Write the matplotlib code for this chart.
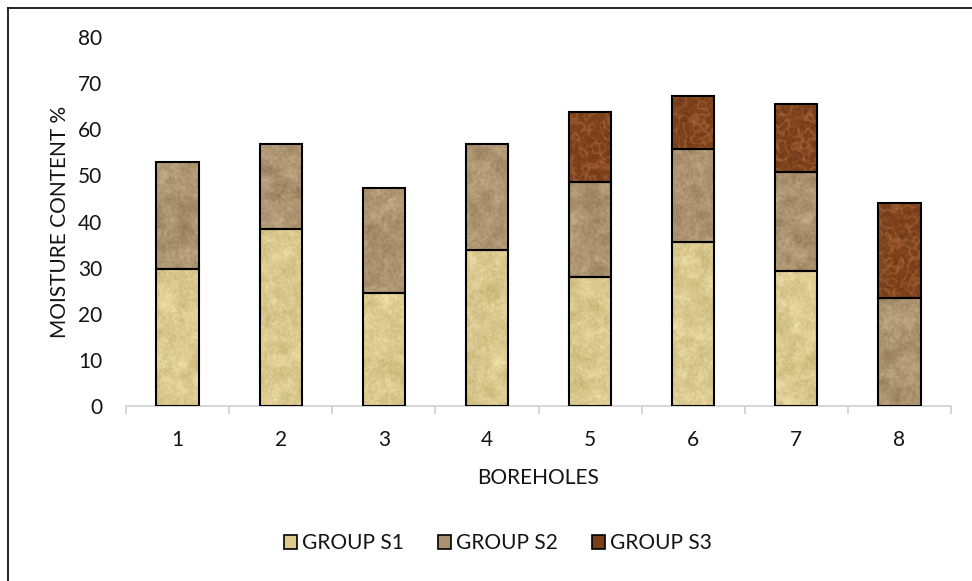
import numpy as np
import matplotlib
matplotlib.use("Agg")
import matplotlib.pyplot as plt
from matplotlib.patches import Rectangle
from matplotlib.lines import Line2D

# Moisture content per borehole, split by soil group
boreholes = ["1", "2", "3", "4", "5", "6", "7", "8"]
group_s1 = [29.7, 38.4, 24.4, 33.8, 28.0, 35.6, 29.3, 0.0]
group_s2 = [23.3, 18.3, 22.8, 23.0, 20.5, 20.2, 21.4, 23.4]
group_s3 = [0.0, 0.0, 0.0, 0.0, 15.2, 11.4, 14.8, 20.6]
series_names = ["GROUP S1", "GROUP S2", "GROUP S3"]
y_ticks = [0, 10, 20, 30, 40, 50, 60, 70, 80]

plt.rcParams["font.family"] = ["Lato", "DejaVu Sans"]
TEXT = "#141414"
FS = 15


def blur(a, sigma):
    """Gaussian blur via FFT (periodic)."""
    h, w = a.shape
    fy = np.fft.fftfreq(h)[:, None]
    fx = np.fft.fftfreq(w)[None, :]
    g = np.exp(-2 * (np.pi ** 2) * (sigma ** 2) * (fx ** 2 + fy ** 2))
    return np.real(np.fft.ifft2(np.fft.fft2(a) * g))


def norm(a):
    a = a - a.mean()
    return a / (a.std() + 1e-9)


rng = np.random.default_rng(11)
H, W = 380, 840


def sand(light, dark, fine_w=0.55, coarse_w=0.6):
    n1 = norm(blur(rng.random((H, W)), 0.8))
    n2 = norm(blur(rng.random((H, W)), 4.0))
    t = 0.55 + 0.17 * (fine_w * n1 + coarse_w * n2)
    t = np.clip(t, 0, 1)[..., None]
    light = np.array(light) / 255.0
    dark = np.array(dark) / 255.0
    return dark + (light - dark) * t


def pebble(light, dark):
    n = norm(blur(rng.random((H, W)), 2.6))
    veins = np.exp(-(n ** 2) / 0.15)
    fine = norm(blur(rng.random((H, W)), 0.8))
    t = np.clip(0.3 + 0.45 * veins + 0.08 * fine, 0, 1)[..., None]
    light = np.array(light) / 255.0
    dark = np.array(dark) / 255.0
    return dark + (light - dark) * t


textures = [
    sand((240, 226, 170), (192, 172, 110)),
    sand((198, 174, 138), (142, 116, 82)),
    pebble((170, 102, 56), (104, 50, 16)),
]
base_colors = ["#dcca8f", "#ab926f", "#7a3f18"]

fig = plt.figure(figsize=(9.72, 5.81), dpi=100)
ax = fig.add_axes([126 / 972, 1 - 406 / 581, (951 - 126) / 972, (406 - 37) / 581])

x = np.arange(len(boreholes))
width = 0.41
bottom = np.zeros(len(boreholes))
for values, tex, col in zip([group_s1, group_s2, group_s3], textures, base_colors):
    vals = np.array(values)
    bars = ax.bar(x, vals, width, bottom=bottom, color=col,
                  edgecolor="black", linewidth=1.3, zorder=3)
    for b, v in zip(bars, vals):
        if v <= 0:
            b.set_visible(False)
            continue
        im = ax.imshow(tex, extent=(-0.5, len(boreholes) - 0.5, 0, 80),
                       aspect="auto", interpolation="bilinear", zorder=3.5)
        im.set_clip_path(b)
        edge = Rectangle(b.get_xy(), b.get_width(), b.get_height(),
                         facecolor="none", edgecolor="black", linewidth=1.5, zorder=4)
        ax.add_patch(edge)
    bottom += vals

ax.set_xlim(-0.5, len(boreholes) - 0.5)
ax.set_ylim(0, 80)
ax.set_xticks(x)
ax.set_xticklabels(boreholes)
ax.set_yticks(y_ticks)
ax.set_yticklabels([str(t) for t in y_ticks])

for side in ["top", "right", "left"]:
    ax.spines[side].set_visible(False)
ax.spines["bottom"].set_color("#d0d0d0")
ax.spines["bottom"].set_linewidth(1.2)
ax.tick_params(axis="y", length=0, pad=17, labelsize=FS, labelcolor=TEXT)
ax.tick_params(axis="x", length=0, pad=17, labelsize=FS, labelcolor=TEXT)
# category separators below the axis line
ax.set_xticks(np.arange(-0.5, len(boreholes)), minor=True)
ax.tick_params(axis="x", which="minor", length=6, width=1.2, color="#d0d0d0",
               direction="out")

ax.set_xlabel("BOREHOLES", fontsize=FS, color=TEXT, labelpad=13)
ax.set_ylabel("MOISTURE CONTENT %", fontsize=FS, color=TEXT, labelpad=6)

# legend swatches
handles = []
for col in base_colors:
    handles.append(Rectangle((0, 0), 1, 1, facecolor=col, edgecolor="black", linewidth=1.2))
fig.legend(handles, series_names, loc="center", bbox_to_anchor=(498 / 972, 1 - 543 / 581),
           ncol=3, frameon=False, fontsize=FS, handlelength=0.65, handleheight=0.65,
           handletextpad=0.25, columnspacing=1.6, labelcolor=TEXT)

# chart frame
fig.add_artist(Line2D([8 / 972, 8 / 972], [1 - 8 / 581, 0], color="black", linewidth=1.2))
fig.add_artist(Line2D([8 / 972, 1], [1 - 8 / 581, 1 - 8 / 581], color="black", linewidth=1.2))

fig.savefig("out.png", dpi=100)
